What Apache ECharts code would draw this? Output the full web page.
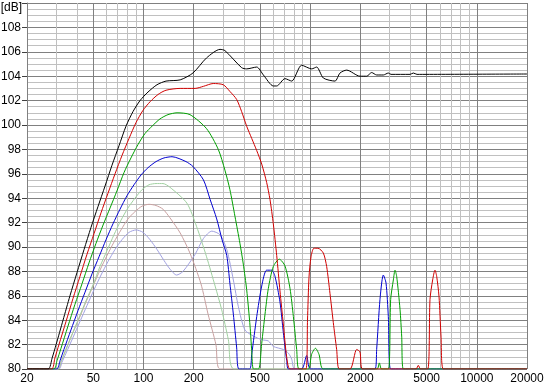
<!DOCTYPE html>
<html>
<head>
<meta charset="utf-8">
<script src="https://cdn.jsdelivr.net/npm/echarts@6/dist/echarts.min.js"></script>
<style>
  html, body { margin: 0; padding: 0; background: #fff; }
  #chart { width: 545px; height: 390px; }
</style>
</head>
<body>
<div id="chart"></div>
<script>
  // frequency grid (Hz)
  const freqMajor = [20, 50, 100, 200, 500, 1000, 2000, 5000, 10000, 20000]
  const freqMinor = [30, 40, 60, 70, 80, 90, 300, 400, 600, 700, 800, 900,
    3000, 4000, 6000, 7000, 8000, 9000]

  // responses [Hz, dB]
  const blackResp = [
    [20, 80], [26.8, 80], [28.3, 80.9], [29.9, 82.0], [32.9, 84.0], [36.2, 86.0],
    [39.9, 87.9], [44.0, 89.8], [48.4, 91.6], [53.3, 93.3], [58.8, 95.0], [64.7, 96.7],
    [71.3, 98.3], [78.5, 99.9], [86.5, 101.1], [95.3, 102.0], [106.4, 102.7],
    [120.5, 103.3], [136.5, 103.6], [166, 103.7], [198, 104.26], [239, 105.5],
    [288, 106.2], [308, 106.1], [388, 104.7], [416, 104.6], [478, 104.75], [524, 104.1],
    [601, 103.2], [630, 103.2], [706, 103.8], [775, 103.6], [889, 104.9], [1021, 104.6],
    [1094, 104.75], [1200, 103.85], [1409, 103.6], [1510, 104.26], [1656, 104.5],
    [1990, 104.0], [2183, 104.0], [2339, 104.3], [2506, 104.1], [2748, 104.1],
    [2944, 104.26], [3055, 104.15], [3972, 104.15], [4160, 104.26], [4375, 104.15],
    [20000, 104.18]
  ]
  const redResp = [
    [20, 80], [28.1, 80], [29.4, 80.9], [31.1, 82.0], [34.3, 83.9], [37.8, 85.8],
    [41.6, 87.6], [45.8, 89.4], [50.5, 91.1], [55.6, 92.8], [61.2, 94.4], [67.5, 96.0],
    [74.3, 97.5], [81.9, 98.9], [90.2, 100.2], [99.3, 101.2], [109.4, 101.9],
    [122.2, 102.5], [136.5, 102.85], [166, 103.0], [204, 103.0], [229, 103.17],
    [262, 103.4], [301, 103.3], [330, 102.75], [362, 102.1], [388, 101.1], [416, 99.9],
    [446, 98.9], [478, 97.9], [512, 96.8], [548, 95.3], [574, 93.9], [601, 91.9],
    [630, 89.3], [659, 86.4], [690, 83.7], [723, 81.0], [757, 80], [944, 80], [964, 84],
    [984, 87.5], [1012, 89.2], [1054, 89.9], [1114, 89.9], [1200, 89.5], [1256, 88.4],
    [1315, 86.2], [1377, 83.8], [1442, 81.6], [1496, 80], [1734, 80], [1901, 81.6],
    [1990, 81.4], [2066, 80], [4316, 80], [4456, 80.3], [4592, 80], [5072, 80],
    [5236, 85.7], [5432, 87.3], [5610, 88.1], [5742, 87.6], [5930, 85.95], [6096, 82.7],
    [6295, 80], [20000, 80]
  ]
  const greenResp = [
    [20, 80], [29.0, 80], [30.3, 80.7], [32.0, 81.7], [35.2, 83.5], [38.8, 85.3],
    [42.8, 87.0], [47.1, 88.7], [51.9, 90.3], [57.2, 91.8], [63.0, 93.2], [69.3, 94.6],
    [76.4, 96.1], [84.1, 97.3], [92.7, 98.4], [102.1, 99.3], [112.5, 99.9],
    [125.6, 100.5], [140.3, 100.85], [158.9, 101.0], [190, 100.85], [239, 99.7],
    [281, 98.0], [308, 96.3], [330, 94.7], [354, 92.5], [379, 90.3], [397, 88.6],
    [416, 86.5], [436, 83.5], [446, 81.5], [457, 80], [490, 80], [512, 82.1], [536, 84.5],
    [561, 86.6], [601, 88.4], [653, 89.0], [706, 88.45], [757, 86.6], [793, 84.3],
    [830, 81.6], [857, 80], [975, 80], [1020, 81.2], [1076, 81.7], [1130, 81.2],
    [1200, 80], [2518, 80], [2600, 80.5], [2680, 80], [2944, 80], [3041, 85.7],
    [3156, 87.3], [3229, 88.1], [3304, 87.6], [3460, 84.9], [3541, 82.7], [3622, 80],
    [20000, 80]
  ]
  const blueResp = [
    [20, 80], [30.1, 80], [31.6, 80.7], [33.3, 81.6], [36.7, 83.2], [40.5, 84.8],
    [44.6, 86.3], [49.1, 87.8], [54.1, 89.2], [59.6, 90.6], [65.6, 91.9], [72.3, 93.1],
    [79.6, 94.2], [87.7, 95.1], [96.6, 95.9], [106.4, 96.5], [118.9, 97.0],
    [132.7, 97.3], [148.3, 97.4], [179.9, 97.0], [198, 96.6], [229, 95.5], [251, 93.9],
    [275, 92.3], [296, 90.6], [316, 89.3], [330, 87.0], [346, 84.5], [362, 81.8],
    [374, 80], [433, 80], [446, 81.2], [478, 84.3], [512, 86.8], [548, 88.1], [588, 88.1],
    [615, 87.6], [659, 85.5], [690, 83.0], [723, 80.7], [741, 80], [889, 80], [953, 81.1],
    [1007, 80], [2450, 80], [2506, 81.6], [2624, 85.7], [2748, 87.7], [2852, 87.05],
    [2944, 84.3], [3041, 80], [20000, 80]
  ]
  const lightGreenResp = [
    [20, 80], [30.7, 80], [32.0, 80.6], [33.8, 81.4], [37.2, 82.8], [41.0, 84.2],
    [45.2, 85.6], [49.8, 86.9], [54.8, 88.4], [60.4, 89.7], [66.5, 91.0], [73.3, 92.2],
    [80.7, 93.2], [88.9, 94.0], [98.0, 94.7], [107.9, 95.1], [118.9, 95.2],
    [130.9, 95.2], [144, 94.9], [182, 93.6], [208, 91.7], [239, 89.2], [269, 86.8],
    [294, 84.9], [323, 82.4], [350, 80], [20000, 80]
  ]
  const pinkResp = [
    [20, 80], [30.7, 80], [32.0, 80.6], [33.8, 81.4], [37.2, 82.8], [41.0, 84.1],
    [45.2, 85.5], [49.8, 86.8], [54.8, 88.1], [60.4, 89.3], [66.5, 90.4], [73.3, 91.4],
    [80.7, 92.3], [88.9, 92.9], [98.0, 93.35], [107.9, 93.5], [118.9, 93.4],
    [130.9, 93.1], [144, 92.4], [166, 91.15], [190, 89.5], [221, 87.0], [244, 84.5],
    [272, 82], [288, 80], [20000, 80]
  ]
  const lavenderResp = [
    [20, 80], [31.1, 80], [32.4, 80.55], [34.3, 81.3], [37.8, 82.6], [41.6, 83.9],
    [45.8, 85.2], [50.5, 86.5], [55.6, 87.7], [61.2, 88.8], [67.5, 89.8], [74.3, 90.6],
    [81.9, 91.2], [90.2, 91.4], [99.3, 91.2], [109.4, 90.6], [120.5, 89.8],
    [132.7, 88.9], [144, 88.2], [158, 87.7], [172.6, 88.0], [204, 89.4], [229, 90.7],
    [257, 91.3], [288, 91.0], [316, 89.8], [346, 87.3], [371, 85.1], [406, 83.2],
    [456, 82.7], [512, 82.4], [561, 82.3], [601, 81.85], [690, 81.6], [740, 81.3],
    [775, 80.8], [811, 80], [20000, 80]
  ]

  const FONT = 'Liberation Sans'

  function curve (name, color, data) {
    return {
      name: name,
      type: 'line',
      data: data,
      symbol: 'none',
      smooth: 0.25,
      silent: true,
      z: 2,
      lineStyle: { color: color, width: 1 },
      itemStyle: { color: color }
    }
  }

  function gridLines (freqs, color, withLabel) {
    return {
      type: 'line',
      data: [],
      silent: true,
      z: 1,
      markLine: {
        silent: true,
        z: 1,
        animation: false,
        symbol: ['none', 'none'],
        lineStyle: { color: color, type: 'solid', width: 1 },
        label: withLabel
          ? {
              show: true,
              position: 'start',
              distance: 4,
              color: '#000',
              fontSize: 12,
              fontFamily: FONT,
              formatter: function (p) { return String(p.value) }
            }
          : { show: false },
        emphasis: { disabled: true },
        data: freqs.map(function (f) { return { xAxis: f } })
      }
    }
  }

  let myChart = echarts.init(document.getElementById('chart'))
  let option = {
    animation: false,
    backgroundColor: '#fff',
    grid: {
      left: 27,
      right: 18,
      top: 3,
      bottom: 21,
      containLabel: false,
      outerBoundsMode: 'none'
    },
    xAxis: {
      type: 'log',
      logBase: 10,
      min: 20,
      max: 20000,
      axisLine: { show: false },
      axisTick: { show: false },
      axisLabel: { show: false },
      splitLine: { show: false }
    },
    yAxis: {
      type: 'value',
      min: 80,
      max: 110,
      interval: 2,
      name: '[dB]',
      nameLocation: 'end',
      nameGap: -11,
      nameTextStyle: { color: '#000', fontSize: 12, fontFamily: FONT, align: 'right', padding: [0, 5, 0, 0] },
      axisLine: { show: true, lineStyle: { color: '#808080' } },
      axisTick: { show: true, length: 5, lineStyle: { color: '#404040' } },
      axisLabel: {
        color: '#000',
        fontSize: 12,
        fontFamily: FONT,
        margin: 6,
        formatter: function (v) { return v === 110 ? '' : String(v) }
      },
      splitLine: { show: true, lineStyle: { color: '#808080', width: 1 } },
      minorTick: { show: false, splitNumber: 4 },
      minorSplitLine: { show: true, lineStyle: { color: '#c0c0c0', width: 1 } }
    },
    series: [
      gridLines(freqMinor, '#c0c0c0', false),
      gridLines(freqMajor, '#808080', true),
      curve('lavender', '#a0a0e0', lavenderResp),
      curve('pink', '#c8a0a0', pinkResp),
      curve('lightgreen', '#a0d0a0', lightGreenResp),
      curve('blue', '#0000d0', blueResp),
      curve('green', '#00a000', greenResp),
      curve('red', '#d00000', redResp),
      curve('black', '#000000', blackResp)
    ]
  }
  myChart.setOption(option)
</script>
</body>
</html>
